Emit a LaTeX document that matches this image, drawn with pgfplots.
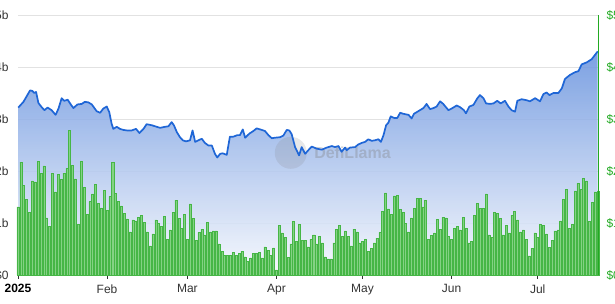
\documentclass[border=0pt]{standalone}
\usepackage{fontspec}
\setmainfont{Liberation Sans}
\usepackage{pgfplots}
\usepackage{pgfplotstable}
\pgfplotsset{compat=1.18}
\definecolor{linecol}{HTML}{1F66D6}
\definecolor{filltop}{HTML}{6A94DE}
\definecolor{fillbot}{HTML}{F6F8FD}
\definecolor{barfill}{HTML}{84D284}
\definecolor{baredge}{HTML}{46B646}
\definecolor{rgreen}{HTML}{22AA22}
\definecolor{gridc}{HTML}{E2E2E2}
\definecolor{axgray}{HTML}{C8C8C8}
\definecolor{labc}{HTML}{333333}

\pgfplotstableread{
d v
0.1 3.22
1.9 3.33
4.2 3.55
5.0 3.54
5.7 3.50
6.3 3.52
7.1 3.31
8.2 3.23
9.2 3.17
10.3 3.22
11.7 3.17
13.1 3.08
14.1 3.20
15.2 3.40
16.1 3.35
17.3 3.37
18.5 3.27
19.3 3.21
20.7 3.28
22.2 3.29
23.3 3.33
24.5 3.32
25.7 3.28
27.4 3.15
28.6 3.12
29.7 3.20
30.9 3.24
31.8 3.13
32.6 2.91
33.2 2.81
34.4 2.85
35.5 2.81
36.7 2.79
37.9 2.78
39.6 2.78
41.1 2.81
42.3 2.73
43.7 2.81
44.8 2.90
46.6 2.88
48.3 2.85
49.5 2.83
51.2 2.85
52.4 2.86
53.5 2.94
54.3 2.88
55.3 2.75
56.4 2.65
57.4 2.59
58.5 2.57
59.9 2.59
60.8 2.78
61.7 2.56
62.8 2.59
64.0 2.62
65.1 2.54
66.3 2.49
67.5 2.49
68.6 2.33
69.4 2.26
70.4 2.33
71.3 2.34
72.7 2.31
73.8 2.66
75.0 2.66
76.4 2.69
77.3 2.69
78.3 2.80
79.1 2.64
80.6 2.72
82.0 2.77
83.1 2.82
84.9 2.79
86.0 2.77
87.2 2.69
88.4 2.63
89.5 2.64
91.3 2.65
92.4 2.68
93.6 2.79
94.5 2.78
95.3 2.71
96.5 2.46
97.9 2.30
98.8 2.46
100.0 2.33
101.1 2.40
102.3 2.47
104.0 2.43
105.8 2.41
107.5 2.45
109.3 2.48
110.4 2.46
111.6 2.48
112.7 2.37
113.9 2.45
114.5 2.40
115.6 2.45
117.4 2.46
118.5 2.51
119.7 2.54
120.9 2.56
122.0 2.61
123.2 2.58
124.3 2.59
125.5 2.61
126.4 2.56
127.3 2.69
128.2 2.88
129.0 2.93
129.8 3.05
131.0 3.02
132.1 3.02
133.1 3.12
134.2 3.10
136.0 3.08
137.1 3.01
137.9 3.10
139.4 3.15
141.2 3.21
142.3 3.29
143.5 3.19
144.7 3.21
145.8 3.24
147.0 3.34
148.1 3.29
149.9 3.17
151.0 3.20
152.8 3.26
153.9 3.23
155.3 3.17
156.0 3.11
157.2 3.24
158.6 3.27
160.0 3.40
160.9 3.46
162.1 3.40
163.0 3.30
164.4 3.29
165.6 3.30
166.9 3.35
168.1 3.30
169.6 3.35
170.8 3.24
171.9 3.17
173.1 3.14
173.9 3.35
175.4 3.38
177.2 3.36
178.3 3.34
180.1 3.40
181.8 3.34
183.0 3.48
184.1 3.51
185.1 3.46
186.5 3.50
188.2 3.50
189.4 3.59
190.5 3.77
192.3 3.85
194.0 3.90
195.2 3.92
196.3 4.05
198.1 4.09
199.8 4.15
201.9 4.30
}\tvl

\pgfplotstableread{
v
1.31
2.17
1.73
1.46
1.21
1.81
1.79
2.19
1.96
2.10
1.10
0.93
1.96
1.60
1.94
1.84
1.96
2.05
2.78
2.11
1.85
0.98
2.19
1.69
1.16
1.41
1.56
1.74
1.38
1.29
1.63
1.24
1.51
2.17
1.57
1.41
1.33
1.19
1.08
0.83
1.06
1.04
1.11
1.15
1.01
0.83
0.56
0.79
1.06
0.99
0.94
1.13
0.69
0.87
1.21
1.44
1.09
0.90
1.17
0.69
1.37
1.09
0.67
0.82
0.88
0.77
1.01
0.83
0.85
0.85
0.60
0.45
0.38
0.38
0.38
0.43
0.38
0.42
0.46
0.35
0.26
0.33
0.41
0.41
0.44
0.33
0.54
0.48
0.38
0.52
0.10
0.96
0.81
0.72
0.34
0.60
1.03
0.65
0.98
0.67
0.67
0.54
0.69
0.77
0.60
0.74
0.62
0.35
0.31
0.31
0.62
0.88
0.96
0.74
0.85
0.74
0.56
0.88
0.83
0.62
0.64
0.69
0.45
0.51
0.62
0.71
0.82
1.23
1.58
1.27
1.17
1.52
1.53
1.26
1.21
0.99
0.83
1.10
1.28
1.47
1.47
1.31
1.44
0.69
0.76
0.81
1.07
0.88
1.11
1.10
0.74
0.69
0.90
0.94
0.87
1.11
0.89
0.62
0.65
1.14
1.38
1.28
1.28
1.56
0.77
0.72
1.21
1.19
1.09
0.77
0.96
0.81
1.15
1.22
1.06
0.83
0.87
0.69
0.37
0.51
0.81
0.72
0.98
0.95
0.79
0.53
0.67
0.85
0.87
1.04
1.46
1.64
0.90
0.98
1.62
1.76
1.65
1.86
1.81
1.03
1.39
1.60
1.62
}\vol

\begin{document}
\begin{tikzpicture}[x=1pt,y=1pt]
\useasboundingbox (-18,-29) rectangle (597,275);
\begin{axis}[
  at={(0,0)}, anchor=south west,
  scale only axis, width=580pt, height=260pt,
  xmin=0, xmax=202, ymin=0, ymax=5,
  axis lines*=left, separate axis lines,
  x axis line style={draw=axgray, line width=0.8pt, -},
  y axis line style={draw=none},
  ytick style={draw=none},
  xtick style={draw=labc, line width=0.8pt},
  tick align=outside,
  major tick length=4pt,
  xtick={0,31,59,90,120,151,181},
  xticklabels={\textbf{\color{black}2025},Feb,Mar,Apr,May,Jun,Jul},
  xticklabel style={text=labc, font=\fontsize{12}{14}\selectfont, yshift=-2pt},
  ytick={0,1,2,3,4,5},
  yticklabels={\$0,\$1b,\$2b,\$3b,\$4b,\$5b},
  yticklabel style={text=labc, font=\fontsize{12}{14}\selectfont, xshift=-2pt},
  ymajorgrids, grid style={draw=gridc, line width=0.8pt},
  clip=false,
]
\addplot[draw=none, top color=filltop, bottom color=fillbot, fill opacity=0.88] table[x=d, y=v]{\tvl} \closedcycle;
\fill[gray, opacity=0.18] (axis cs:95,2.35) circle (16pt);
\node[font=\bfseries\fontsize{16}{16}\selectfont, text=gray, opacity=0.35] at (axis cs:116.5,2.35) {DefiLlama};
\addplot[ybar, bar width=0.7, fill=barfill, draw=baredge, line width=0.5pt] table[x expr=\coordindex, y=v]{\vol};
\addplot[linecol, line width=1.7pt, line join=round] table[x=d, y=v]{\tvl};
\end{axis}
\begin{axis}[
  at={(0,0)}, anchor=south west,
  scale only axis, width=580pt, height=260pt,
  xmin=0, xmax=202, ymin=0, ymax=5,
  axis x line=none, axis y line*=right,
  y axis line style={draw=rgreen, line width=1pt, -},
  ytick={0,1,2,3,4,5},
  yticklabels={\$0,\$100m,\$200m,\$300m,\$400m,\$500m},
  ytick style={draw=none},
  major tick length=0pt,
  yticklabel style={text=rgreen, font=\fontsize{12}{14}\selectfont, anchor=west, xshift=5pt},
]
\end{axis}
\end{tikzpicture}
\end{document}
